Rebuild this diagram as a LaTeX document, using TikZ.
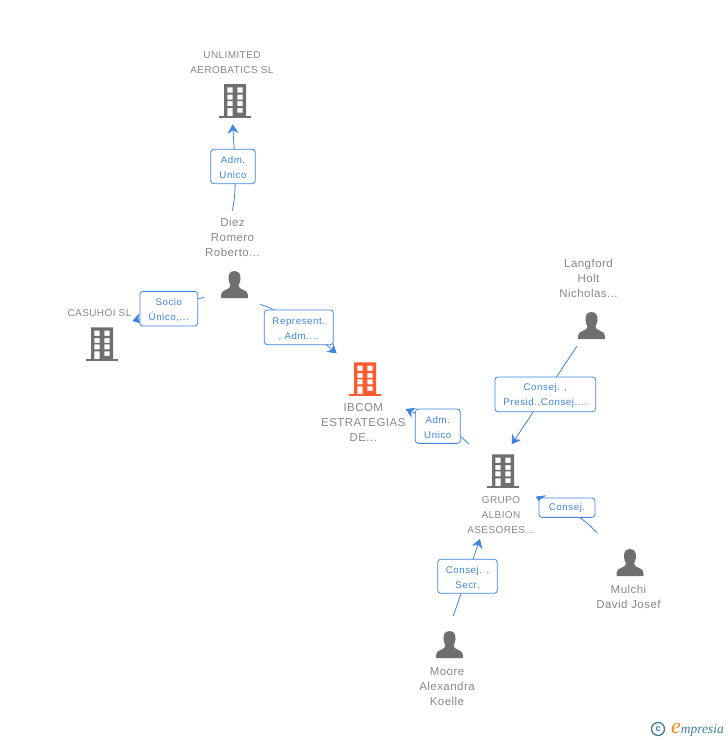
\documentclass[tikz,border=0pt]{standalone}
\usepackage{fontspec}
\setmainfont{Liberation Sans}
\newfontfamily\logofont{Liberation Serif}
\usetikzlibrary{arrows.meta}
\definecolor{icongray}{HTML}{6F6F6F}
\definecolor{iconorange}{HTML}{FF5B2E}
\definecolor{txtgray}{HTML}{888888}
\definecolor{linkblue}{HTML}{3F84E0}
\definecolor{logoteal}{HTML}{3F7F96}
\definecolor{logoorange}{HTML}{F08A1E}
\newcommand{\tagup}{\rule{0pt}{10pt}}
\tikzset{
  bldg/.style={minimum width=32pt,minimum height=34pt,inner sep=0pt,
    path picture={\begin{scope}[shift={(path picture bounding box.center)}]
      \fill[#1,even odd rule] (-11,-17) rectangle (11,15)
        (-7.6,-13.6) rectangle (-2.4,-8.4) (2.4,-13.6) rectangle (7.6,-8.4)
        (-7.6,-6.3) rectangle (-2.4,-1.4) (2.4,-6.3) rectangle (7.6,-1.4)
        (-7.6,0) rectangle (-2.4,5) (2.4,0) rectangle (7.6,5)
        (-7.6,7) rectangle (-2.4,15) (2.4,7) rectangle (7.6,11.6);
      \fill[#1] (-15.7,14.7) rectangle (15.7,17);
    \end{scope}}},
  persona/.style={minimum width=28pt,minimum height=27pt,inner sep=0pt,
    path picture={\begin{scope}[shift={(path picture bounding box.center)}]
      \fill[icongray] (0,-13.5) .. controls (-5,-13.5) and (-6.5,-9) .. (-6,-5)
        .. controls (-5.7,-2) and (-4.5,-0.5) .. (-4,1)
        .. controls (-4,3.5) and (-6,4) .. (-9,5.5)
        .. controls (-12.5,7) and (-13.5,8) .. (-13.5,13.5)
        -- (13.5,13.5) .. controls (13.5,8) and (12.5,7) .. (9,5.5)
        .. controls (6,4) and (4,3.5) .. (4,1)
        .. controls (4.5,-0.5) and (5.7,-2) .. (6,-5)
        .. controls (6.5,-9) and (5,-13.5) .. (0,-13.5) -- cycle;
    \end{scope}}},
  nametext/.style={text=txtgray,align=center,inner sep=0pt,
    font=\fontsize{#1}{15}\selectfont\addfontfeature{LetterSpace=4}},
  tagbox/.style={draw=linkblue,line width=0.8pt,rounded corners=3pt,fill=white,
    text=linkblue,align=center,inner sep=0pt,
    font=\fontsize{9.7}{15}\selectfont\addfontfeature{LetterSpace=6}},
  conn/.style={draw=linkblue,line width=0.8pt,
    -{Stealth[length=9pt,width=11pt,inset=3pt]}}
}
\begin{document}
\begin{tikzpicture}[x=1pt,y=-1pt]
\useasboundingbox (0,0) rectangle (728,740);
% connector ends
\coordinate (e1a) at (232.3,210.7); \coordinate (e1b) at (232.7,124.3);
\coordinate (e2a) at (204.3,297.3); \coordinate (e2b) at (132.3,321);
\coordinate (e3a) at (260.3,304.3); \coordinate (e3b) at (336.7,353.3);
\coordinate (e4a) at (577,346);     \coordinate (e4b) at (511.7,444.3);
\coordinate (e5a) at (469,444);     \coordinate (e5b) at (405.7,409);
\coordinate (e6a) at (597.3,533.3); \coordinate (e6b) at (535.7,496.7);
\coordinate (e7a) at (453.3,616);   \coordinate (e7b) at (480,539);
% connectors
\draw[conn] (e1a) .. controls (238,185) and (234,150) .. (e1b);
\draw[conn] (e2a) .. controls (190,300) and (150,316) .. (e2b);
\draw[conn] (e3a) .. controls (290,314) and (318,338) .. (e3b);
\draw[conn] (e4a) -- (e4b);
\draw[conn] (e5a) .. controls (450,425) and (425,418) .. (e5b);
\draw[conn] (e6a) .. controls (575,508) and (550,503) .. (e6b);
\draw[conn] (e7a) -- (e7b);
% relation labels
\node[tagbox,minimum width=44.6pt,minimum height=34.4pt] (t1) at (233,166.5) {\tagup Adm.\\Unico};
\node[tagbox,minimum width=57.7pt,minimum height=34.7pt] (t2) at (168.8,308.7) {\tagup Socio\\Único,...};
\node[tagbox,minimum width=69pt,minimum height=34.7pt] (t3) at (298.8,327.3) {\tagup Represent.\\, Adm....};
\node[tagbox,minimum width=100.7pt,minimum height=34.7pt] (t4) at (545.3,394.3) {\tagup Consej. ,\\Presid.,Consej....};
\node[tagbox,minimum width=45pt,minimum height=34.3pt] (t5) at (437.8,426.2) {\tagup Adm.\\Unico};
\node[tagbox,minimum width=56pt,minimum height=19.3pt] (t6) at (567,507.7) {Consej.};
\node[tagbox,minimum width=59.6pt,minimum height=34pt] (t7) at (467.5,576.3) {\tagup Consej. ,\\Secr.};
% company icons
\node[bldg=icongray] (unlimited) at (235,101) {};
\node[bldg=icongray] (casuhoi) at (102,344.3) {};
\node[bldg=iconorange] (ibcom) at (365,379.3) {};
\node[bldg=icongray] (grupo) at (503,471.3) {};
% person icons
\node[persona] (diez) at (234.5,284.5) {};
\node[persona] (langford) at (591.5,325.5) {};
\node[persona] (mulchi) at (630,562.5) {};
\node[persona] (moore) at (449.5,644.5) {};
% names
\node[nametext=10] (nunlimited) at (232,62.5) {UNLIMITED\\AEROBATICS SL};
\node[nametext=10] (ncasuhoi) at (99.5,313) {CASUHOI SL};
\node[nametext=11.5] (nibcom) at (363.3,422.5) {IBCOM\\ESTRATEGIAS\\DE...};
\node[nametext=10] (ngrupo) at (501,515) {GRUPO\\ALBION\\ASESORES...};
\node[nametext=11.5] (ndiez) at (232.5,237) {Diez\\Romero\\Roberto...};
\node[nametext=11.5] (nlangford) at (588.5,278) {Langford\\Holt\\Nicholas...};
\node[nametext=11.5] (nmulchi) at (628.5,597) {Mulchi\\David Josef};
\node[nametext=11.5] (nmoore) at (447,686.5) {Moore\\Alexandra\\Koelle};
% logo
\node[circle,draw=logoteal,line width=1.3pt,minimum size=13pt,inner sep=0pt,text=logoteal,font=\fontsize{9}{9}\selectfont\bfseries] (copy) at (658,729) {c};
\node[anchor=base west,inner sep=0pt,text=logoteal,font=\logofont\itshape\fontsize{13.5}{14}\selectfont] (logo) at (671,733.5) {{\color{logoorange}\fontsize{22}{22}\selectfont e}mpresia};
\end{tikzpicture}
\end{document}
